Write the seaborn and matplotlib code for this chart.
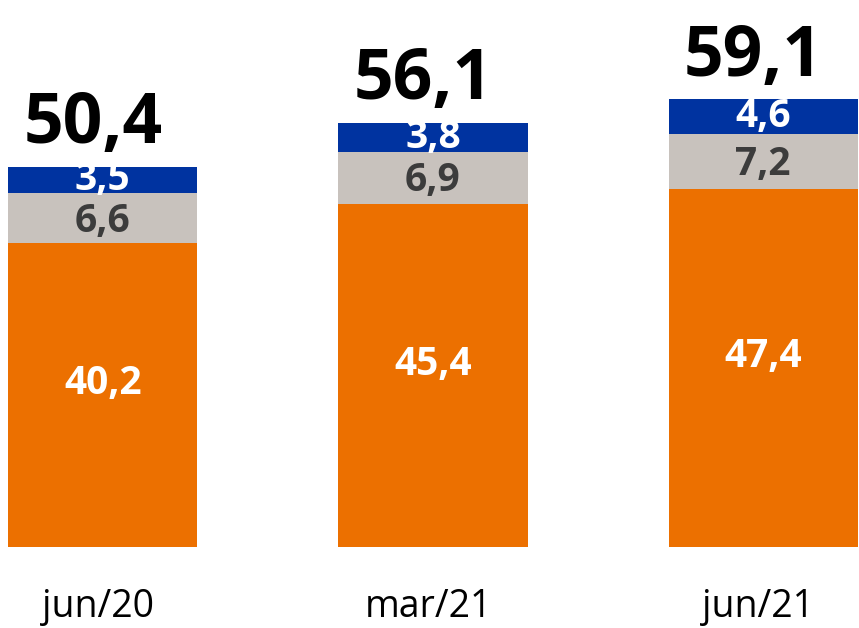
import numpy as np
import pandas as pd
import matplotlib
matplotlib.use("Agg")
import matplotlib.pyplot as plt
import seaborn as sns

# dados do grafico
periods = ["jun/20", "mar/21", "jun/21"]
base_vals = [40.2, 45.4, 47.4]      # laranja
mid_vals = [6.6, 6.9, 7.2]          # cinza
top_vals = [3.5, 3.8, 4.6]          # azul
totals = [50.4, 56.1, 59.1]

ORANGE = "#EC7000"
GREY = "#C8C2BD"
BLUE = "#0033A0"

sns.set_theme(style="white")
plt.rcParams["font.family"] = ["Open Sans", "DejaVu Sans"]

df = pd.DataFrame({"period": periods, "base": base_vals, "mid": mid_vals, "top": top_vals})
df["cum_mid"] = df["base"] + df["mid"]
df["cum_top"] = df["cum_mid"] + df["top"]

fig = plt.figure(figsize=(8.59, 6.28), dpi=100)
ax = fig.add_axes([0, 0, 1, 1])

W = 0.573
for col, c in [("cum_top", BLUE), ("cum_mid", GREY), ("base", ORANGE)]:
    sns.barplot(data=df, x="period", y=col, color=c, width=W, saturation=1,
                linewidth=0, edgecolor="none", ax=ax)

fmt = lambda v: f"{v:.1f}".replace(".", ",")

for i, row in df.iterrows():
    ax.text(i, row["base"] / 2 + 1.5, fmt(row["base"]), ha="center", va="center",
            color="white", fontsize=28, fontweight="bold")
    ax.text(i, row["base"] + row["mid"] / 2 - 0.4, fmt(row["mid"]), ha="center", va="center",
            color="#3C3C3C", fontsize=28, fontweight="bold")
    ax.text(i, row["cum_mid"] + row["top"] / 2, fmt(row["top"]), ha="center", va="center",
            color="white", fontsize=28, fontweight="bold")
    ax.text(i - 0.03, row["cum_top"] + 0.9, fmt(totals[i]), ha="center", va="bottom",
            color="black", fontsize=50, fontweight="bold")
    ax.text(i - 0.015, -7.9, periods[i], ha="center", va="center", color="black", fontsize=27)

ax.set_xlim(-0.311, 2.29)
ax.set_ylim(-10.71, 72.35)
ax.axis("off")

fig.savefig("out.png", dpi=100)
